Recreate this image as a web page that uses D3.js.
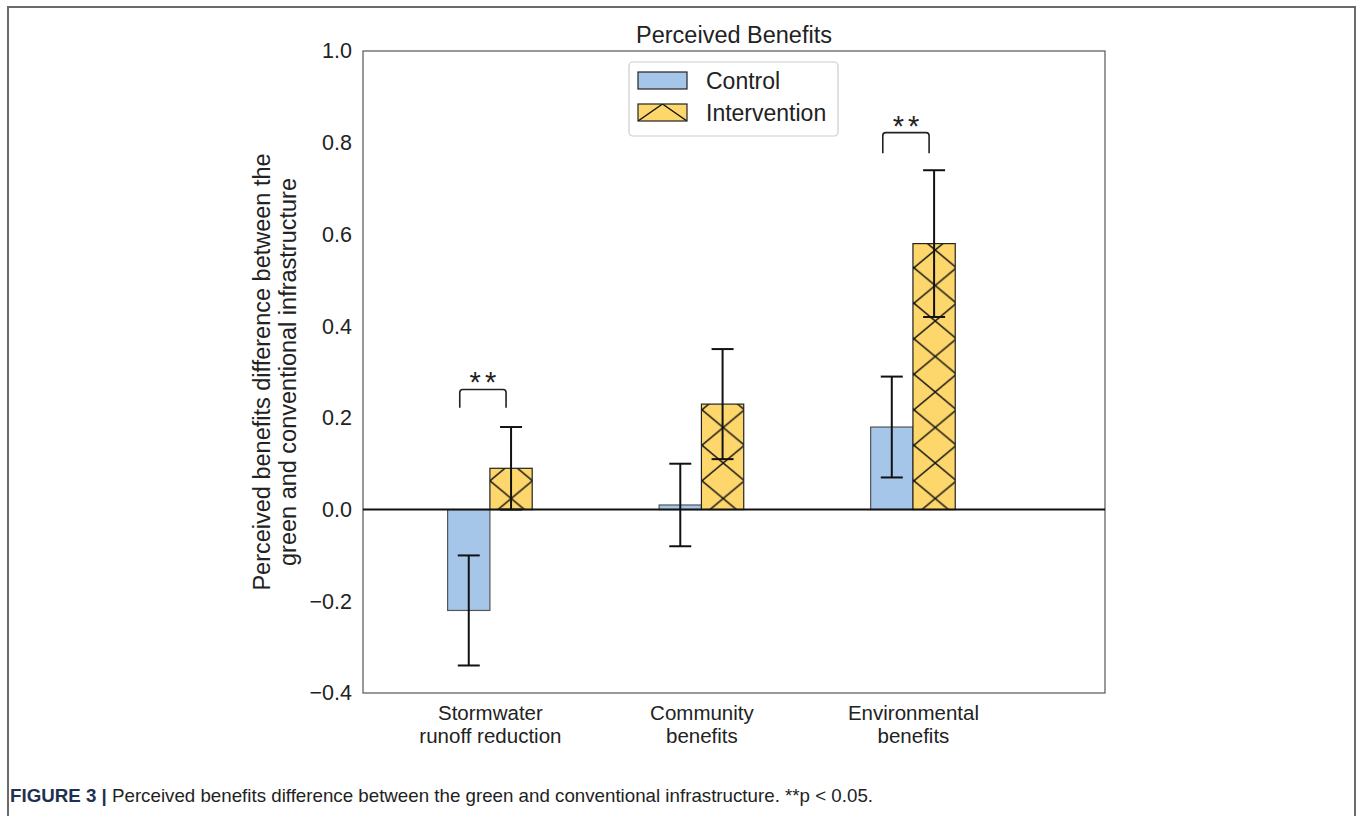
<!DOCTYPE html>
<html><head><meta charset="utf-8">
<script src="https://cdn.jsdelivr.net/npm/d3@7"></script>
<style>body{margin:0;background:#fff}svg{display:block}text{font-family:"Liberation Sans",Arial,sans-serif}</style>
</head><body>
<svg id="c" width="1362" height="816"></svg>
<script>
const categories = ["Stormwater\nrunoff reduction", "Community\nbenefits", "Environmental\nbenefits"];
const series = ["Control", "Intervention"];
const controlValues = [-0.22, 0.01, 0.18];
const controlErrors = [0.12, 0.09, 0.11];
const interventionValues = [0.09, 0.23, 0.58];
const interventionErrors = [0.09, 0.12, 0.16];
const yTicks = [-0.4, -0.2, 0.0, 0.2, 0.4, 0.6, 0.8, 1.0];
const significance = [{cat: 0, label: "**", y: 0.262, drop: 0.04}, {cat: 2, label: "**", y: 0.822, drop: 0.045}];

const svg = d3.select("#c");
const L = 363, R = 1105, T = 51, B = 693;
const x = d3.scaleLinear().domain([-0.6, 2.908]).range([L, R]);
const y = d3.scaleLinear().domain([-0.4, 1.0]).range([B, T]);
const bw = 0.2;
const colors = {Control: "#a5c6e8", Intervention: "#fdd76b"};

// figure frame
svg.append("path").attr("d", "M8,818V7H1355V818").attr("fill", "none").attr("stroke", "#6a6a6a").attr("stroke-width", 2);

// hatch pattern
const defs = svg.append("defs");
const pw = 42.4, ph = 35.5;
const pat = defs.append("pattern").attr("id", "hx").attr("patternUnits", "userSpaceOnUse")
  .attr("x", 490).attr("y", 232.25).attr("width", pw).attr("height", ph);
pat.append("rect").attr("width", pw).attr("height", ph).attr("fill", colors.Intervention);
pat.append("path").attr("d", `M0,0L${pw},${ph}M${pw},0L0,${ph}M-2,-2L2,2M${pw-2},${ph-2}L${pw+2},${ph+2}`)
  .attr("stroke", "#111").attr("stroke-width", 1.4);
const patL = defs.append("pattern").attr("id", "hxl").attr("patternUnits", "userSpaceOnUse")
  .attr("x", 638).attr("y", 87).attr("width", 49).attr("height", 34);
patL.append("rect").attr("width", 49).attr("height", 34).attr("fill", colors.Intervention);
patL.append("path").attr("d", "M0,0L49,34M49,0L0,34").attr("stroke", "#111").attr("stroke-width", 1.4);

// axes frame
svg.append("rect").attr("x", L).attr("y", T).attr("width", R - L).attr("height", B - T)
  .attr("fill", "none").attr("stroke", "#555").attr("stroke-width", 1.2);

// y tick labels
const yAxis = d3.axisLeft(y).tickValues(yTicks).tickSize(0).tickPadding(11)
  .tickFormat(d => d3.format(".1f")(d).replace("-", "\u2212"));
const ga = svg.append("g").attr("transform", `translate(${L},0)`).call(yAxis);
ga.select(".domain").remove();
ga.selectAll("text").attr("font-size", 21.5).attr("fill", "#222").attr("font-family", "Liberation Sans, Arial, sans-serif");

// x labels
const xAxis = d3.axisBottom(x).tickValues(d3.range(categories.length)).tickSize(0).tickFormat(() => "");
const gx = svg.append("g").attr("transform", `translate(0,${B})`).call(xAxis);
gx.select(".domain").remove();
gx.selectAll(".tick").each(function(d) {
  const t = d3.select(this).append("text").attr("text-anchor", "middle").attr("fill", "#222").attr("font-size", 20.5);
  categories[d].split("\n").forEach((s, i) => t.append("tspan").attr("x", 0).attr("y", 27 + i * 23).text(s));
});

// bars
const data = [];
categories.forEach((c, i) => {
  data.push({i, s: "Control", v: controlValues[i], e: controlErrors[i], off: -bw / 2});
  data.push({i, s: "Intervention", v: interventionValues[i], e: interventionErrors[i], off: bw / 2});
});
svg.append("g").selectAll("rect").data(data).join("rect")
  .attr("x", d => x(d.i + d.off - bw / 2)).attr("width", d => x(bw) - x(0))
  .attr("y", d => y(Math.max(0, d.v))).attr("height", d => Math.abs(y(d.v) - y(0)))
  .attr("fill", d => d.s === "Control" ? colors.Control : "url(#hx)")
  .attr("stroke", d => d.s === "Control" ? "#555" : "#222").attr("stroke-width", 1.2);

// zero line
svg.append("line").attr("x1", L).attr("x2", R).attr("y1", y(0)).attr("y2", y(0)).attr("stroke", "#111").attr("stroke-width", 2);

// error bars
const eg = svg.append("g").attr("stroke", "#111").attr("stroke-width", 2);
data.forEach(d => {
  const cx = x(d.i + d.off);
  eg.append("line").attr("x1", cx).attr("x2", cx).attr("y1", y(d.v + d.e)).attr("y2", y(d.v - d.e));
  [d.v + d.e, d.v - d.e].forEach(v => eg.append("line").attr("x1", cx - 11).attr("x2", cx + 11).attr("y1", y(v)).attr("y2", y(v)));
});

// significance brackets
significance.forEach(s => {
  const x1 = x(s.cat - bw / 2) - 9, x2 = x(s.cat + bw / 2) - 5;
  const yt = y(s.y), yb = y(s.y - s.drop);
  svg.append("path").attr("d", `M${x1},${yb}V${yt + 3}Q${x1},${yt} ${x1 + 3},${yt}H${x2 - 3}Q${x2},${yt} ${x2},${yt + 3}V${yb}`)
    .attr("fill", "none").attr("stroke", "#222").attr("stroke-width", 1.6);
  svg.append("text").attr("x", (x1 + x2) / 2 + 2).attr("y", yt + 3).attr("text-anchor", "middle")
    .attr("font-size", 29).attr("fill", "#222").attr("letter-spacing", 4).text(s.label);
});

// title
svg.append("text").attr("x", (L + R) / 2).attr("y", 43).attr("text-anchor", "middle").attr("font-size", 23.5).attr("fill", "#222").text("Perceived Benefits");

// y label
const yl = svg.append("text").attr("transform", `translate(270,${(T + B) / 2}) rotate(-90)`).attr("text-anchor", "middle").attr("font-size", 23.5).attr("fill", "#222");
yl.append("tspan").attr("x", 0).attr("y", 0).text("Perceived benefits difference between the");
yl.append("tspan").attr("x", 0).attr("y", 26).text("green and conventional infrastructure");

// legend
svg.append("rect").attr("x", 629).attr("y", 62).attr("width", 209).attr("height", 74).attr("rx", 4)
  .attr("fill", "#fff").attr("stroke", "#ccc").attr("stroke-width", 1.2);
series.forEach((s, i) => {
  const yy = 72 + i * 32;
  svg.append("rect").attr("x", 638).attr("y", yy).attr("width", 49).attr("height", 17)
    .attr("fill", s === "Control" ? colors.Control : "url(#hxl)").attr("stroke", "#222").attr("stroke-width", 1.2);
  svg.append("text").attr("x", 706).attr("y", yy + 17).attr("font-size", 23).attr("fill", "#222").text(s);
});

// caption
const cap = svg.append("text").attr("x", 10).attr("y", 802).attr("font-size", 19).attr("fill", "#222")
  .attr("textLength", 863).attr("lengthAdjust", "spacingAndGlyphs")
  .attr("font-family", "Liberation Sans Narrow, Liberation Sans, Arial, sans-serif");
cap.append("tspan").attr("font-weight", "bold").attr("fill", "#1f3050").text("FIGURE 3 | ");
cap.append("tspan").text("Perceived benefits difference between the green and conventional infrastructure. **p < 0.05.");
</script>
</body></html>
